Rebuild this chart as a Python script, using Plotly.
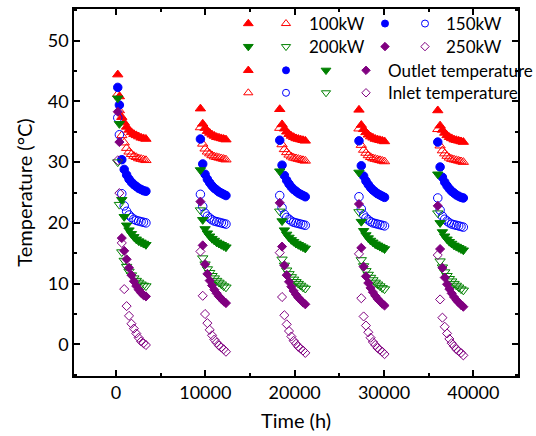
import plotly.graph_objects as go

# Time (h)
TIME = [200, 380, 650, 920, 1190, 1460, 1730, 2000, 2270, 2540, 2810, 3080, 3350,
        9450, 9710, 9970, 10230, 10490, 10750, 11010, 11270, 11530, 11790, 12050, 12310,
        18330, 18590, 18850, 19110, 19370, 19630, 19890, 20150, 20410, 20670, 20930, 21190,
        27200, 27460, 27720, 27980, 28240, 28500, 28760, 29020, 29280, 29540, 29800, 30060,
        36020, 36280, 36540, 36800, 37060, 37320, 37580, 37840, 38100, 38360, 38620, 38880]

OUT_100 = [44.4, 40.8, 37.4, 36.5, 35.8, 35.3, 34.9, 34.6, 34.4, 34.2, 34.0, 33.9, 33.8,
           38.8, 36.3, 35.6, 35.1, 34.8, 34.5, 34.3, 34.1, 34.0, 33.9, 33.8, 33.7,
           38.7, 36.2, 35.5, 35.0, 34.6, 34.3, 34.1, 33.9, 33.8, 33.7, 33.6, 33.5,
           38.6, 36.1, 35.4, 34.9, 34.5, 34.2, 34.0, 33.8, 33.7, 33.6, 33.5, 33.4,
           38.5, 36.0, 35.3, 34.8, 34.4, 34.1, 33.9, 33.7, 33.6, 33.5, 33.4, 33.3]
IN_100 = [41.2, 38.5, 34.4, 33.2, 32.3, 31.7, 31.3, 31.0, 30.8, 30.6, 30.5, 30.4, 30.3,
          35.7, 33.0, 32.2, 31.7, 31.4, 31.1, 30.9, 30.8, 30.7, 30.6, 30.5, 30.4,
          35.6, 32.9, 32.1, 31.6, 31.2, 30.9, 30.7, 30.6, 30.5, 30.4, 30.3, 30.2,
          35.5, 32.8, 32.0, 31.5, 31.1, 30.8, 30.6, 30.5, 30.4, 30.3, 30.2, 30.1,
          35.4, 32.7, 31.9, 31.4, 31.0, 30.7, 30.5, 30.4, 30.3, 30.2, 30.1, 30.0]
OUT_150 = [42.3, 39.4, 30.4, 28.8, 27.9, 27.2, 26.7, 26.3, 26.0, 25.7, 25.5, 25.3, 25.2,
           33.8, 29.7, 28.0, 27.2, 26.6, 26.1, 25.7, 25.4, 25.1, 24.9, 24.7, 24.5,
           33.6, 29.5, 27.8, 27.0, 26.4, 25.9, 25.5, 25.2, 24.9, 24.7, 24.5, 24.3,
           33.5, 29.4, 27.7, 26.9, 26.3, 25.8, 25.4, 25.1, 24.8, 24.6, 24.4, 24.2,
           33.3, 29.2, 27.5, 26.7, 26.1, 25.6, 25.2, 24.9, 24.6, 24.4, 24.2, 24.1]
IN_150 = [37.3, 34.5, 24.8, 22.8, 21.9, 21.3, 20.9, 20.6, 20.4, 20.3, 20.2, 20.1, 20.0,
          24.7, 22.7, 21.6, 21.1, 20.8, 20.5, 20.3, 20.2, 20.1, 20.0, 19.9, 19.8,
          24.5, 22.5, 21.4, 20.9, 20.6, 20.3, 20.1, 20.0, 19.9, 19.8, 19.7, 19.6,
          24.3, 22.3, 21.3, 20.8, 20.5, 20.2, 20.0, 19.9, 19.8, 19.7, 19.6, 19.5,
          24.1, 22.1, 21.1, 20.6, 20.3, 20.0, 19.8, 19.7, 19.6, 19.5, 19.4, 19.3]
OUT_200 = [40.5, 36.3, 23.8, 21.0, 19.6, 18.8, 18.2, 17.7, 17.3, 17.0, 16.8, 16.6, 16.4,
           28.7, 20.5, 19.0, 18.3, 17.8, 17.4, 17.1, 16.8, 16.6, 16.4, 16.2, 16.0,
           28.5, 20.3, 18.8, 18.1, 17.6, 17.2, 16.9, 16.6, 16.4, 16.2, 16.0, 15.8,
           28.3, 20.2, 18.7, 18.0, 17.5, 17.1, 16.8, 16.5, 16.3, 16.1, 15.9, 15.7,
           28.0, 20.0, 18.5, 17.8, 17.3, 16.9, 16.6, 16.3, 16.1, 15.9, 15.7, 15.5]
IN_200 = [30.0, 23.0, 15.2, 13.8, 12.8, 12.0, 11.4, 10.9, 10.5, 10.2, 9.9, 9.7, 9.6,
          22.1, 14.2, 13.2, 12.4, 11.8, 11.3, 10.9, 10.5, 10.2, 9.9, 9.6, 9.4,
          21.9, 14.0, 13.0, 12.2, 11.6, 11.1, 10.7, 10.3, 10.0, 9.7, 9.4, 9.2,
          21.8, 13.9, 12.9, 12.1, 11.5, 11.0, 10.6, 10.2, 9.9, 9.6, 9.3, 9.1,
          21.6, 13.7, 12.7, 11.9, 11.3, 10.8, 10.4, 10.0, 9.7, 9.4, 9.1, 8.9]
OUT_250 = [38.3, 33.3, 17.5, 15.4, 14.0, 12.6, 11.4, 10.4, 9.6, 9.0, 8.5, 8.1, 7.9,
           23.5, 16.3, 13.2, 11.6, 10.5, 9.7, 9.0, 8.4, 7.9, 7.5, 7.1, 6.8,
           23.3, 16.1, 13.0, 11.4, 10.3, 9.5, 8.8, 8.2, 7.7, 7.3, 6.9, 6.6,
           23.1, 15.9, 12.8, 11.2, 10.1, 9.3, 8.6, 8.0, 7.5, 7.1, 6.7, 6.4,
           22.8, 15.7, 12.6, 11.0, 9.9, 9.1, 8.4, 7.8, 7.3, 6.9, 6.5, 6.2]
IN_250 = [30.3, 24.9, 16.7, 9.1, 6.3, 4.7, 3.4, 2.6, 1.8, 1.1, 0.5, 0.2, -0.1,
          15.3, 8.0, 5.0, 3.5, 2.4, 1.5, 0.8, 0.3, -0.2, -0.5, -0.8, -1.2,
          15.1, 7.8, 4.8, 3.3, 2.2, 1.3, 0.6, 0.1, -0.4, -0.7, -1.0, -1.4,
          14.9, 7.6, 4.6, 3.1, 2.0, 1.1, 0.4, -0.1, -0.6, -0.9, -1.2, -1.6,
          14.7, 7.4, 4.4, 2.9, 1.8, 0.9, 0.2, -0.3, -0.8, -1.1, -1.4, -1.8]

X_TICKS = [0, 10000, 20000, 30000, 40000]
Y_TICKS = [0, 10, 20, 30, 40, 50]

RED, BLUE, GREEN, PURPLE = "#FF0000", "#0000FF", "#008000", "#800080"
FONT = "Lato, 'Open Sans', sans-serif"

SERIES = [
    ("100kW outlet", OUT_100, RED, "triangle-up", 9),
    ("100kW inlet", IN_100, RED, "triangle-up-open", 9),
    ("150kW outlet", OUT_150, BLUE, "circle", 8.5),
    ("150kW inlet", IN_150, BLUE, "circle-open", 8.5),
    ("200kW outlet", OUT_200, GREEN, "triangle-down", 9),
    ("200kW inlet", IN_200, GREEN, "triangle-down-open", 9),
    ("250kW outlet", OUT_250, PURPLE, "diamond", 7),
    ("250kW inlet", IN_250, PURPLE, "diamond-open", 7),
]

fig = go.Figure()
for name, vals, col, sym, sz in SERIES:
    fig.add_trace(go.Scatter(
        x=TIME, y=vals, mode="markers", name=name, showlegend=False,
        marker=dict(symbol=sym, size=sz, color=col, line=dict(color=col, width=1)),
    ))

# custom legend drawn on an overlay axis (paper-like 0..1)
L = 74.0; R = 518.0; T = 7.0; B = 378.0
def px(x):
    return (x - L) / (R - L)
def py(y):
    return (B - y) / (B - T)

leg_items = [
    (248.3, 21.7, RED, "triangle-up", 8.5), (286, 21.7, RED, "triangle-up-open", 8),
    (385, 21.7, BLUE, "circle", 7), (425, 21.7, BLUE, "circle-open", 7),
    (248.3, 45, GREEN, "triangle-down", 8.5), (286, 45, GREEN, "triangle-down-open", 8),
    (385, 45, PURPLE, "diamond", 6.5), (425, 45, PURPLE, "diamond-open", 6.5),
    (248.3, 69, RED, "triangle-up", 8.5), (286, 69, BLUE, "circle", 7),
    (326, 69, GREEN, "triangle-down", 8.5), (366, 69, PURPLE, "diamond", 6.5),
    (248.3, 91.7, RED, "triangle-up-open", 8), (286, 91.7, BLUE, "circle-open", 7),
    (326, 91.7, GREEN, "triangle-down-open", 8), (366, 91.7, PURPLE, "diamond-open", 6.5),
]
for (lx, ly, col, sym, sz) in leg_items:
    fig.add_trace(go.Scatter(
        x=[px(lx)], y=[py(ly)], xaxis="x2", yaxis="y2", mode="markers",
        showlegend=False, hoverinfo="skip",
        marker=dict(symbol=sym, size=sz, color=col, line=dict(color=col, width=1)),
    ))

leg_texts = [(306.7, 21.7, "100kW"), (444, 21.7, "150kW"), (306.7, 45, "200kW"),
             (444, 45, "250kW"), (385.7, 69, "Outlet temperature"), (385.7, 91.7, "Inlet temperature")]
annotations = []
for (lx, ly, txt) in leg_texts:
    annotations.append(dict(x=px(lx), y=py(ly), xref="paper", yref="paper", text=txt,
                            showarrow=False, xanchor="left", yanchor="middle",
                            font=dict(family=FONT, size=17, color="black")))

axis_common = dict(showgrid=False, zeroline=False, showline=True, linecolor="black",
                   linewidth=1.5, mirror="ticks", ticks="inside", ticklen=6, tickwidth=1.5,
                   tickcolor="black", tickfont=dict(family=FONT, size=18, color="black"))

fig.update_layout(
    width=536, height=436,
    margin=dict(l=74, r=18, t=7, b=58),
    paper_bgcolor="white", plot_bgcolor="white",
    showlegend=False,
    annotations=annotations,
    xaxis=dict(range=[-4700, 45000], tickvals=X_TICKS, ticktext=[str(v) for v in X_TICKS],
               minor=dict(dtick=5000, ticks="inside", ticklen=3, tickwidth=1.5, tickcolor="black"),
               title=dict(text="Time (h)", font=dict(family=FONT, size=20, color="black"), standoff=12),
               **axis_common),
    yaxis=dict(range=[-5.2, 55.2], tickvals=Y_TICKS, ticktext=[str(v) for v in Y_TICKS],
               minor=dict(dtick=5, ticks="inside", ticklen=3, tickwidth=1.5, tickcolor="black"),
               title=dict(text="Temperature (°C)", font=dict(family=FONT, size=20, color="black"), standoff=10),
               **axis_common),
    xaxis2=dict(range=[0, 1], overlaying="x", visible=False, fixedrange=True),
    yaxis2=dict(range=[0, 1], overlaying="y", visible=False, fixedrange=True),
)

fig.write_html("out.html", config={"displayModeBar": False},
               post_script="document.body.style.margin='0';document.body.style.overflow='hidden';")
